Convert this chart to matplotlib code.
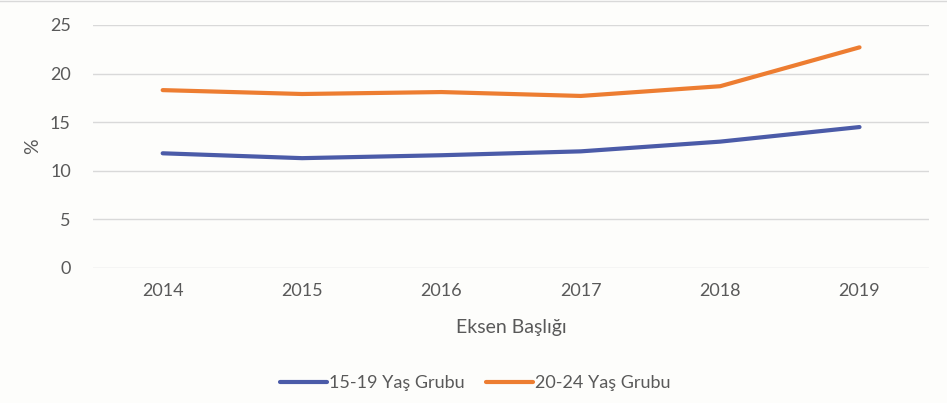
import matplotlib.pyplot as plt

years = ['2014', '2015', '2016', '2017', '2018', '2019']
group_15_19 = [11.8, 11.3, 11.6, 12.0, 13.0, 14.5]
group_20_24 = [18.3, 17.9, 18.1, 17.7, 18.7, 22.7]

plt.rcParams['font.family'] = ['Lato', 'DejaVu Sans']
text_color = '#595959'
bg = '#fdfdfb'

fig = plt.figure(figsize=(9.47, 4.03), dpi=100, facecolor=bg)
ax = fig.add_axes([0.0982, 0.335, 0.883, 0.603])
ax.set_facecolor(bg)

x = list(range(len(years)))
ax.plot(x, group_15_19, color='#4b5ba8', linewidth=3, solid_capstyle='round',
        solid_joinstyle='round', label='15-19 Yaş Grubu')
ax.plot(x, group_20_24, color='#ed7d31', linewidth=3, solid_capstyle='round',
        solid_joinstyle='round', label='20-24 Yaş Grubu')

ax.set_xlim(-0.5, len(years) - 0.5)
ax.set_ylim(0, 25)
ax.set_yticks([0, 5, 10, 15, 20, 25])
ax.set_xticks(x)
ax.set_xticklabels(years)
ax.grid(axis='y', color='#d9d9d9', linewidth=1)
ax.set_axisbelow(True)
for s in ax.spines.values():
    s.set_visible(False)
ax.tick_params(length=0, labelsize=13, colors=text_color, pad=11)
ax.tick_params(axis='y', pad=16)

ax.set_xlabel('Eksen Başlığı', fontsize=14, color=text_color, labelpad=14)
ax.set_ylabel('%', fontsize=14, color=text_color, labelpad=6)

ax.legend(loc='center', bbox_to_anchor=(0.457, -0.473), ncol=2, frameon=False,
          fontsize=13, labelcolor=text_color, handlelength=2.6,
          handletextpad=0.1, columnspacing=1.2)

fig.add_artist(plt.Line2D([0, 1], [0.997, 0.997], color='#d9d9d9', linewidth=1))

fig.savefig('out.png', dpi=100, facecolor=bg)
